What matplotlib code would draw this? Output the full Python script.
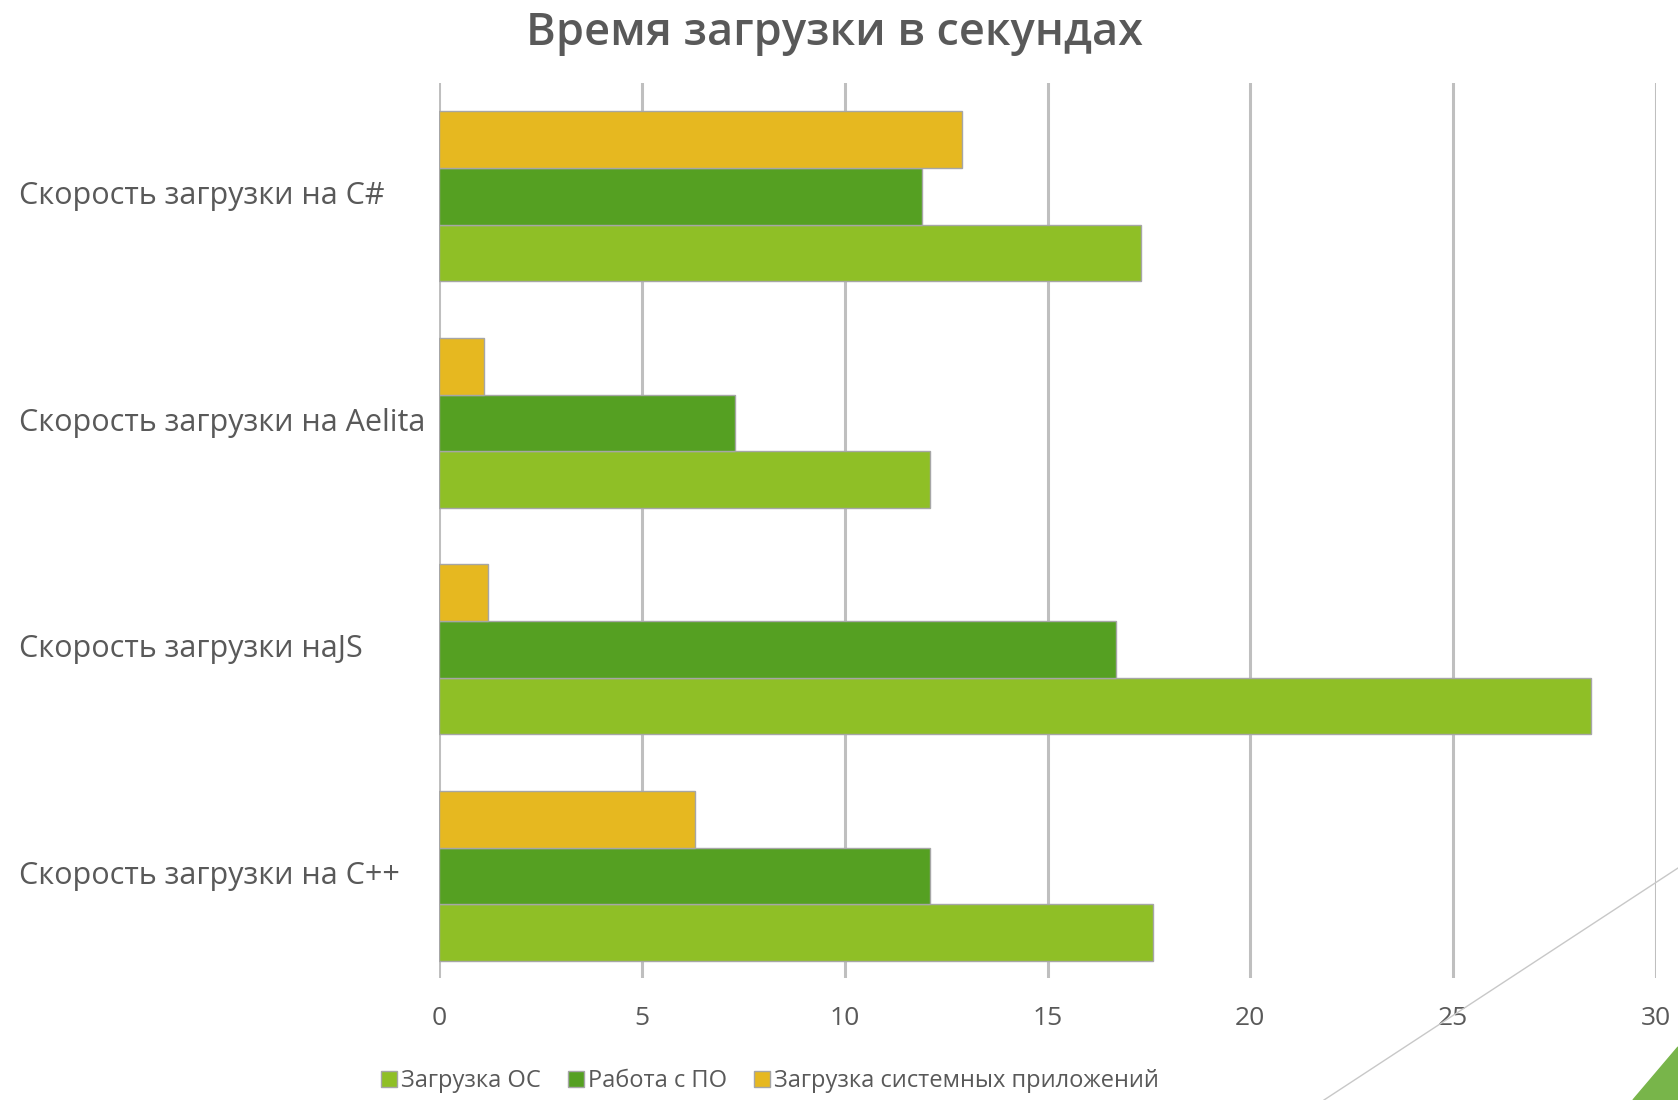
import matplotlib.pyplot as plt
import numpy as np
from matplotlib.patches import Polygon
from matplotlib.lines import Line2D

plt.rcParams['font.family'] = ['Open Sans', 'DejaVu Sans']

# bottom to top, as Excel draws them
categories = ['Скорость загрузки на C++', 'Скорость загрузки наJS',
              'Скорость загрузки на Aelita', 'Скорость загрузки на C#']
series_names = ['Загрузка ОС', 'Работа с ПО', 'Загрузка системных приложений']
os_load = [17.6, 28.4, 12.1, 17.3]
po_work = [12.1, 16.7, 7.3, 11.9]
apps_load = [6.3, 1.2, 1.1, 12.9]
colors = ['#8fbf26', '#55a022', '#e6b820']
xticks = [0, 5, 10, 15, 20, 25, 30]

fig = plt.figure(figsize=(16.78, 11.0), dpi=100)
ax = fig.add_axes([439 / 1678, 1 - 978 / 1100, (1656 - 439) / 1678, (978 - 83) / 1100])

y = np.arange(len(categories))
h = 0.25
for i, (vals, name, c) in enumerate(zip([os_load, po_work, apps_load], series_names, colors)):
    ax.barh(y + (i - 1) * h, vals, height=h, color=c, edgecolor='#a6a6a6',
            linewidth=1, label=name, zorder=3)

ax.set_xlim(0, 30)
ax.set_ylim(-0.45, 3.5)
ax.set_xticks(xticks)
ax.set_xticklabels([str(t) for t in xticks], fontsize=19, color='#595959')
ax.tick_params(axis='x', length=0, pad=20)
ax.grid(axis='x', color='#bfbfbf', linewidth=2.2, zorder=0)
for s in ax.spines.values():
    s.set_visible(False)

ax.set_yticks(y)
ax.set_yticklabels([])
ax.tick_params(axis='y', length=0)
for yi, lab in zip(y, categories):
    ax.annotate(lab, xy=(19 / 1678, yi), xycoords=('figure fraction', 'data'),
                ha='left', va='center', fontsize=22, color='#595959')

fig.text(835 / 1678, 1 - 33 / 1100, 'Время загрузки в секундах', ha='center', va='center',
         fontsize=32.5, color='#595959', fontweight='semibold')

handles = [Line2D([], [], marker='s', linestyle='', markersize=11, markerfacecolor=c,
                  markeredgecolor='#a6a6a6') for c in colors]
fig.legend(handles, series_names, loc='center', bbox_to_anchor=(768 / 1678, 1 - 1081 / 1100),
           ncol=3, frameon=False, fontsize=17, handletextpad=0.0, columnspacing=1.0,
           handlelength=1.0, labelcolor='#595959')

# slide decoration
fig.add_artist(Line2D([1324 / 1678, 1.0], [0, 1 - 868 / 1100], color='#c8c8c8',
                      linewidth=1, transform=fig.transFigure))
fig.add_artist(Polygon([[1633 / 1678, 0], [1.0, 1 - 1047 / 1100], [1.0, 0]],
                       closed=True, color='#78b54a', transform=fig.transFigure))

fig.savefig('out.png', dpi=100)
